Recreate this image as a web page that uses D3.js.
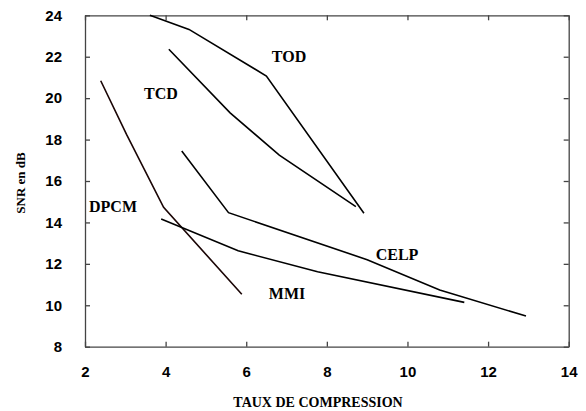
<!DOCTYPE html>
<html>
<head>
<meta charset="utf-8">
<script src="https://cdn.jsdelivr.net/npm/d3@7"></script>
<style>
  body { margin: 0; background: #fff; }
  .tick text { font-family: "Liberation Sans", Arial, sans-serif; font-weight: bold; font-size: 15px; fill: #000; }
  .lbl { font-family: "Liberation Serif", "Times New Roman", serif; font-weight: bold; }
</style>
</head>
<body>
<div id="chart"></div>
<script>
// data: [taux de compression, SNR dB]
var tod  = [[3.61, 24.0], [4.58, 23.32], [6.5, 21.07], [8.92, 14.44]];
var tcd  = [[4.08, 22.36], [5.6, 19.29], [6.82, 17.25], [8.72, 14.76]];
var dpcm = [[2.39, 20.84], [3.03, 18.25], [3.95, 14.73], [5.89, 10.53]];
var celp = [[4.4, 17.45], [5.56, 14.47], [9.0, 12.2], [10.8, 10.74], [12.94, 9.48]];
var mmi  = [[3.89, 14.16], [5.8, 12.63], [7.77, 11.62], [11.41, 10.14]];

var seriesNames = ["TOD", "TCD", "DPCM", "CELP", "MMI"];
var seriesData = [tod, tcd, dpcm, celp, mmi];
var labelPos = [[289, 56], [161, 93], [113, 206], [397, 254], [287, 293]];

var xTicks = [2, 4, 6, 8, 10, 12, 14];
var yTicks = [8, 10, 12, 14, 16, 18, 20, 22, 24];

var W = 586, H = 411;
var margin = { top: 15.3, right: 17.3, bottom: 64.3, left: 85 };
var w = W - margin.left - margin.right;
var h = H - margin.top - margin.bottom;

var svg = d3.select("#chart").append("svg")
    .attr("width", W)
    .attr("height", H);

var g = svg.append("g")
    .attr("transform", "translate(" + margin.left + "," + margin.top + ")");

var x = d3.scaleLinear().domain([2, 14]).range([0, w]);
var y = d3.scaleLinear().domain([8, 24]).range([h, 0]);

// ticks point inward on all four sides
g.append("g")
    .attr("transform", "translate(0," + h + ")")
    .call(d3.axisBottom(x).tickValues(xTicks).tickSizeInner(-5).tickSizeOuter(0).tickPadding(20));
g.append("g")
    .call(d3.axisLeft(y).tickValues(yTicks).tickSizeInner(-5).tickSizeOuter(0).tickPadding(23));
g.append("g")
    .call(d3.axisTop(x).tickValues(xTicks).tickSizeInner(-5).tickSizeOuter(0).tickFormat(""));
g.append("g")
    .attr("transform", "translate(" + w + ",0)")
    .call(d3.axisRight(y).tickValues(yTicks).tickSizeInner(-5).tickSizeOuter(0).tickFormat(""));

g.selectAll(".domain, .tick line")
    .attr("stroke", "#444")
    .attr("stroke-width", 1.3);

var line = d3.line()
    .x(function (d) { return x(d[0]); })
    .y(function (d) { return y(d[1]); });

g.selectAll("path.series")
    .data(seriesData)
    .enter()
    .append("path")
    .attr("class", "series")
    .attr("fill", "none")
    .attr("stroke", function (d, i) { return i === 2 ? "#1a0505" : "#000"; })
    .attr("stroke-width", 1.6)
    .attr("d", line);

svg.selectAll("text.name")
    .data(seriesNames)
    .enter()
    .append("text")
    .attr("class", "lbl name")
    .attr("x", function (d, i) { return labelPos[i][0]; })
    .attr("y", function (d, i) { return labelPos[i][1]; })
    .attr("dy", "0.35em")
    .attr("text-anchor", "middle")
    .style("font-size", "16px")
    .text(function (d) { return d; });

svg.append("text")
    .attr("class", "lbl")
    .attr("x", 318)
    .attr("y", 402)
    .attr("dy", "0.35em")
    .attr("text-anchor", "middle")
    .style("font-size", "14px")
    .text("TAUX DE COMPRESSION");

svg.append("text")
    .attr("class", "lbl")
    .attr("transform", "translate(20,183) rotate(-90)")
    .attr("dy", "0.35em")
    .attr("text-anchor", "middle")
    .style("font-size", "13px")
    .text("SNR en dB");
</script>
</body>
</html>
